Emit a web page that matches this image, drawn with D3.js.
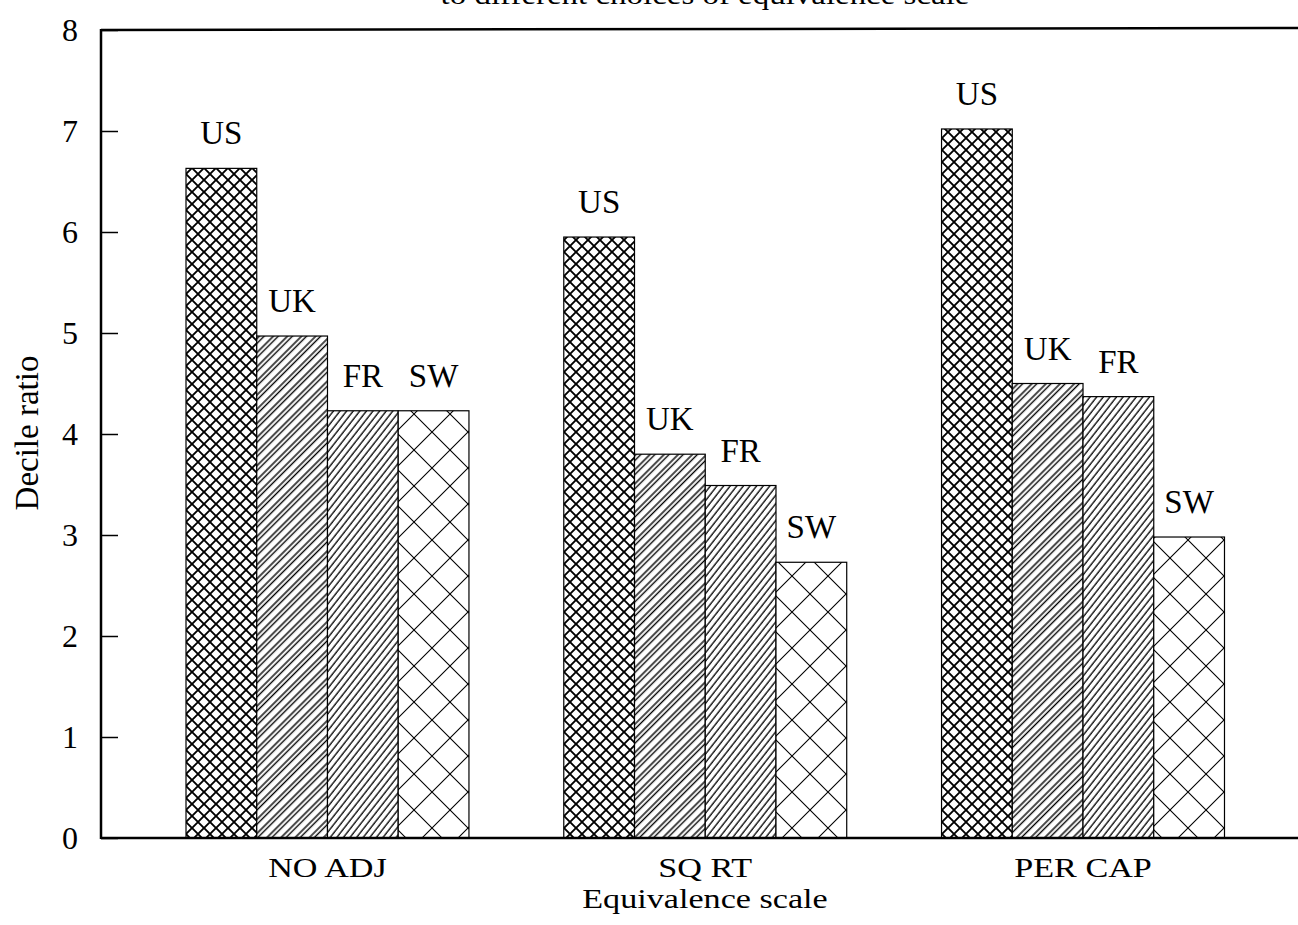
<!DOCTYPE html>
<html>
<head>
<meta charset="utf-8">
<script src="https://cdn.jsdelivr.net/npm/d3@7/dist/d3.min.js"></script>
<style>
  html, body { margin: 0; padding: 0; background: #fff; }
  svg { display: block; }
  text { font-family: "Liberation Serif", "Times New Roman", serif; fill: #000; }
</style>
</head>
<body>
<svg id="chart" width="1298" height="925"></svg>
<script>
// ---- data ----
const categories = ["NO ADJ", "SQ RT", "PER CAP"];
const series = ["US", "UK", "FR", "SW"];
const valuesUS = [6.63, 5.95, 7.02];
const valuesUK = [4.97, 3.80, 4.50];
const valuesFR = [4.23, 3.49, 4.37];
const valuesSW = [4.23, 2.73, 2.98];
const yTicks = [0, 1, 2, 3, 4, 5, 6, 7, 8];
const titleText = "to different choices of equivalence scale";
const xTitle = "Equivalence scale";
const yTitle = "Decile ratio";

const seriesValues = { US: valuesUS, UK: valuesUK, FR: valuesFR, SW: valuesSW };
const rows = [];
categories.forEach((c, i) => series.forEach(s => rows.push({ cat: c, ser: s, v: seriesValues[s][i] })));

const svg = d3.select("#chart");
const pLeft = 101, pRight = 1298, pTop = 30, pBottom = 838;

const y = d3.scaleLinear().domain([0, 8]).range([pBottom, pTop]);
const x0 = d3.scaleBand().domain(categories).range([138.6, 1271.9]).paddingInner(0.251).paddingOuter(0.1255);
const x1 = d3.scaleBand().domain(series).range([0, x0.bandwidth()]);

// ---- patterns ----
const defs = svg.append("defs");
function lattice(id, size, sw) {
  const p = defs.append("pattern").attr("id", id).attr("patternUnits", "userSpaceOnUse")
    .attr("width", size).attr("height", size);
  p.append("rect").attr("width", size).attr("height", size).attr("fill", "#fff");
  p.append("path").attr("d", `M0,0L${size},${size}M${size},0L0,${size}`)
    .attr("stroke", "#000").attr("stroke-width", sw).attr("fill", "none");
}
lattice("patUS", 12, 1.9);
lattice("patSW", 36, 1.1);

function hatch(id, w, offsets, angle, sw) {
  const p = defs.append("pattern").attr("id", id).attr("patternUnits", "userSpaceOnUse")
    .attr("width", w).attr("height", 20).attr("patternTransform", `rotate(${angle})`);
  p.append("rect").attr("width", w).attr("height", 20).attr("fill", "#fff");
  offsets.forEach(o => p.append("line").attr("x1", o).attr("x2", o).attr("y1", 0).attr("y2", 20)
    .attr("stroke", "#000").attr("stroke-width", sw));
}
hatch("patUK", 10, [1, 4.5], 45, 1.4);
hatch("patFR", 5.2, [1], 38, 1.3);

const fills = { US: "url(#patUS)", UK: "url(#patUK)", FR: "url(#patFR)", SW: "url(#patSW)" };

// ---- bars ----
const g = svg.append("g");
g.selectAll("rect.bar").data(rows).enter().append("rect")
  .attr("class", "bar")
  .attr("x", d => x0(d.cat) + x1(d.ser))
  .attr("y", d => y(d.v))
  .attr("width", x1.bandwidth())
  .attr("height", d => y(0) - y(d.v))
  .attr("fill", d => fills[d.ser])
  .attr("stroke", "#000").attr("stroke-width", 1.2);

// bar labels
g.selectAll("text.blab").data(rows).enter().append("text")
  .attr("class", "blab")
  .attr("x", d => x0(d.cat) + x1(d.ser) + x1.bandwidth() / 2)
  .attr("y", d => y(d.v) - 24)
  .attr("text-anchor", "middle")
  .attr("font-size", 33)
  .text(d => d.ser);

// ---- axes ----
const yAxis = d3.axisLeft(y).tickValues(yTicks).tickSizeInner(-17).tickSizeOuter(0).tickPadding(23).tickFormat(d3.format("d"));
const ya = svg.append("g").attr("transform", `translate(${pLeft},0)`).call(yAxis);
ya.select(".domain").remove();
ya.selectAll(".tick line").attr("stroke", "#000").attr("stroke-width", 1.5);
ya.selectAll(".tick text").attr("font-family", "Liberation Serif, serif").attr("font-size", 32).attr("fill", "#000");

// frame lines
svg.append("line").attr("x1", pLeft).attr("x2", pLeft).attr("y1", pTop - 1).attr("y2", pBottom + 1).attr("stroke", "#000").attr("stroke-width", 2.5);
svg.append("line").attr("x1", pLeft).attr("x2", pRight).attr("y1", pTop).attr("y2", pTop - 2).attr("stroke", "#000").attr("stroke-width", 2.5);
svg.append("line").attr("x1", pLeft).attr("x2", pRight).attr("y1", pBottom).attr("y2", pBottom).attr("stroke", "#000").attr("stroke-width", 2.5);

// category labels
svg.selectAll("text.cat").data(categories).enter().append("text")
  .attr("class", "cat")
  .attr("transform", d => `translate(${x0(d) + x0.bandwidth() / 2},877) scale(1.22,1)`)
  .attr("text-anchor", "middle")
  .attr("font-size", 28)
  .text(d => d);

// axis titles
svg.append("text").attr("transform", "translate(705,908) scale(1.22,1)")
  .attr("text-anchor", "middle").attr("font-size", 28).text(xTitle);
svg.append("text").attr("transform", "translate(38,433) rotate(-90)")
  .attr("text-anchor", "middle").attr("font-size", 33).text(yTitle);

// cut-off title at top (only its lower edge shows in the reference)
svg.append("text").attr("transform", "translate(705,4) scale(1.22,1)")
  .attr("text-anchor", "middle").attr("font-size", 27).text(titleText);
</script>
</body>
</html>
